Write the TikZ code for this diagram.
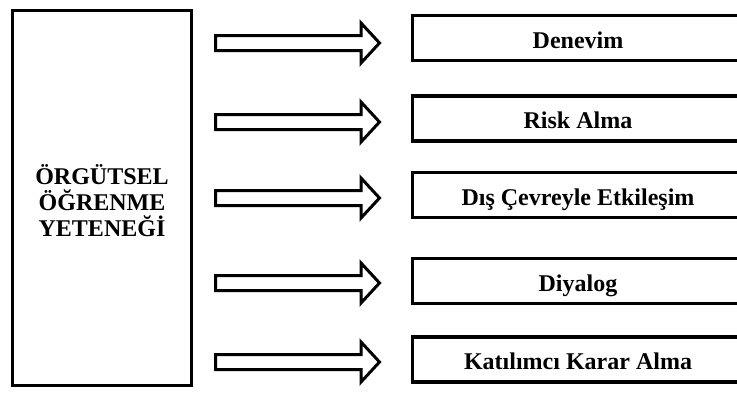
\documentclass[tikz,border=0pt]{standalone}
\usepackage{fontspec}
\setmainfont{Liberation Serif}
\usetikzlibrary{positioning}

\tikzset{
    bigbox/.style={draw, line width=3.2pt, minimum width=179pt, minimum height=375pt, inner sep=0pt},
    itembox/.style={draw, line width=3.2pt, minimum width=331pt, minimum height=45pt, inner sep=0pt,
        font=\fontsize{24}{26}\selectfont\bfseries, text height=20pt, text depth=0pt},
    blockarrow/.style={draw, line width=3pt, fill=white, line join=miter}
}

\begin{document}
\begin{tikzpicture}[x=1pt, y=-1pt]
        % page frame
        \useasboundingbox (0,0) rectangle (737,392);

        % left block
        \node[bigbox] (yetenek) at (102,198) {};
        \node[font=\fontsize{24}{26}\selectfont\bfseries, align=center] (baslik) at (102,201) {ÖRGÜTSEL\\ÖĞRENME\\YETENEĞİ};

        % right blocks
        \node[itembox] (denevim) at (578,38) {Denevim};
        \node[itembox] (risk) at (578,118.5) {Risk Alma};
        \node[itembox] (cevre) at (578,195) {Dış Çevreyle Etkileşim};
        \node[itembox] (diyalog) at (578,281) {Diyalog};
        \node[itembox] (katilim) at (578,359.5) {Katılımcı Karar Alma};

        % block arrows
        \foreach \y in {43,122,198,283,362}
        {
            \draw[blockarrow] (215.5,\y-7.5) -- (361,\y-7.5) -- (361,\y-20) -- (379.5,\y)
                -- (361,\y+20) -- (361,\y+7.5) -- (215.5,\y+7.5) -- cycle;
        }
\end{tikzpicture}
\end{document}
